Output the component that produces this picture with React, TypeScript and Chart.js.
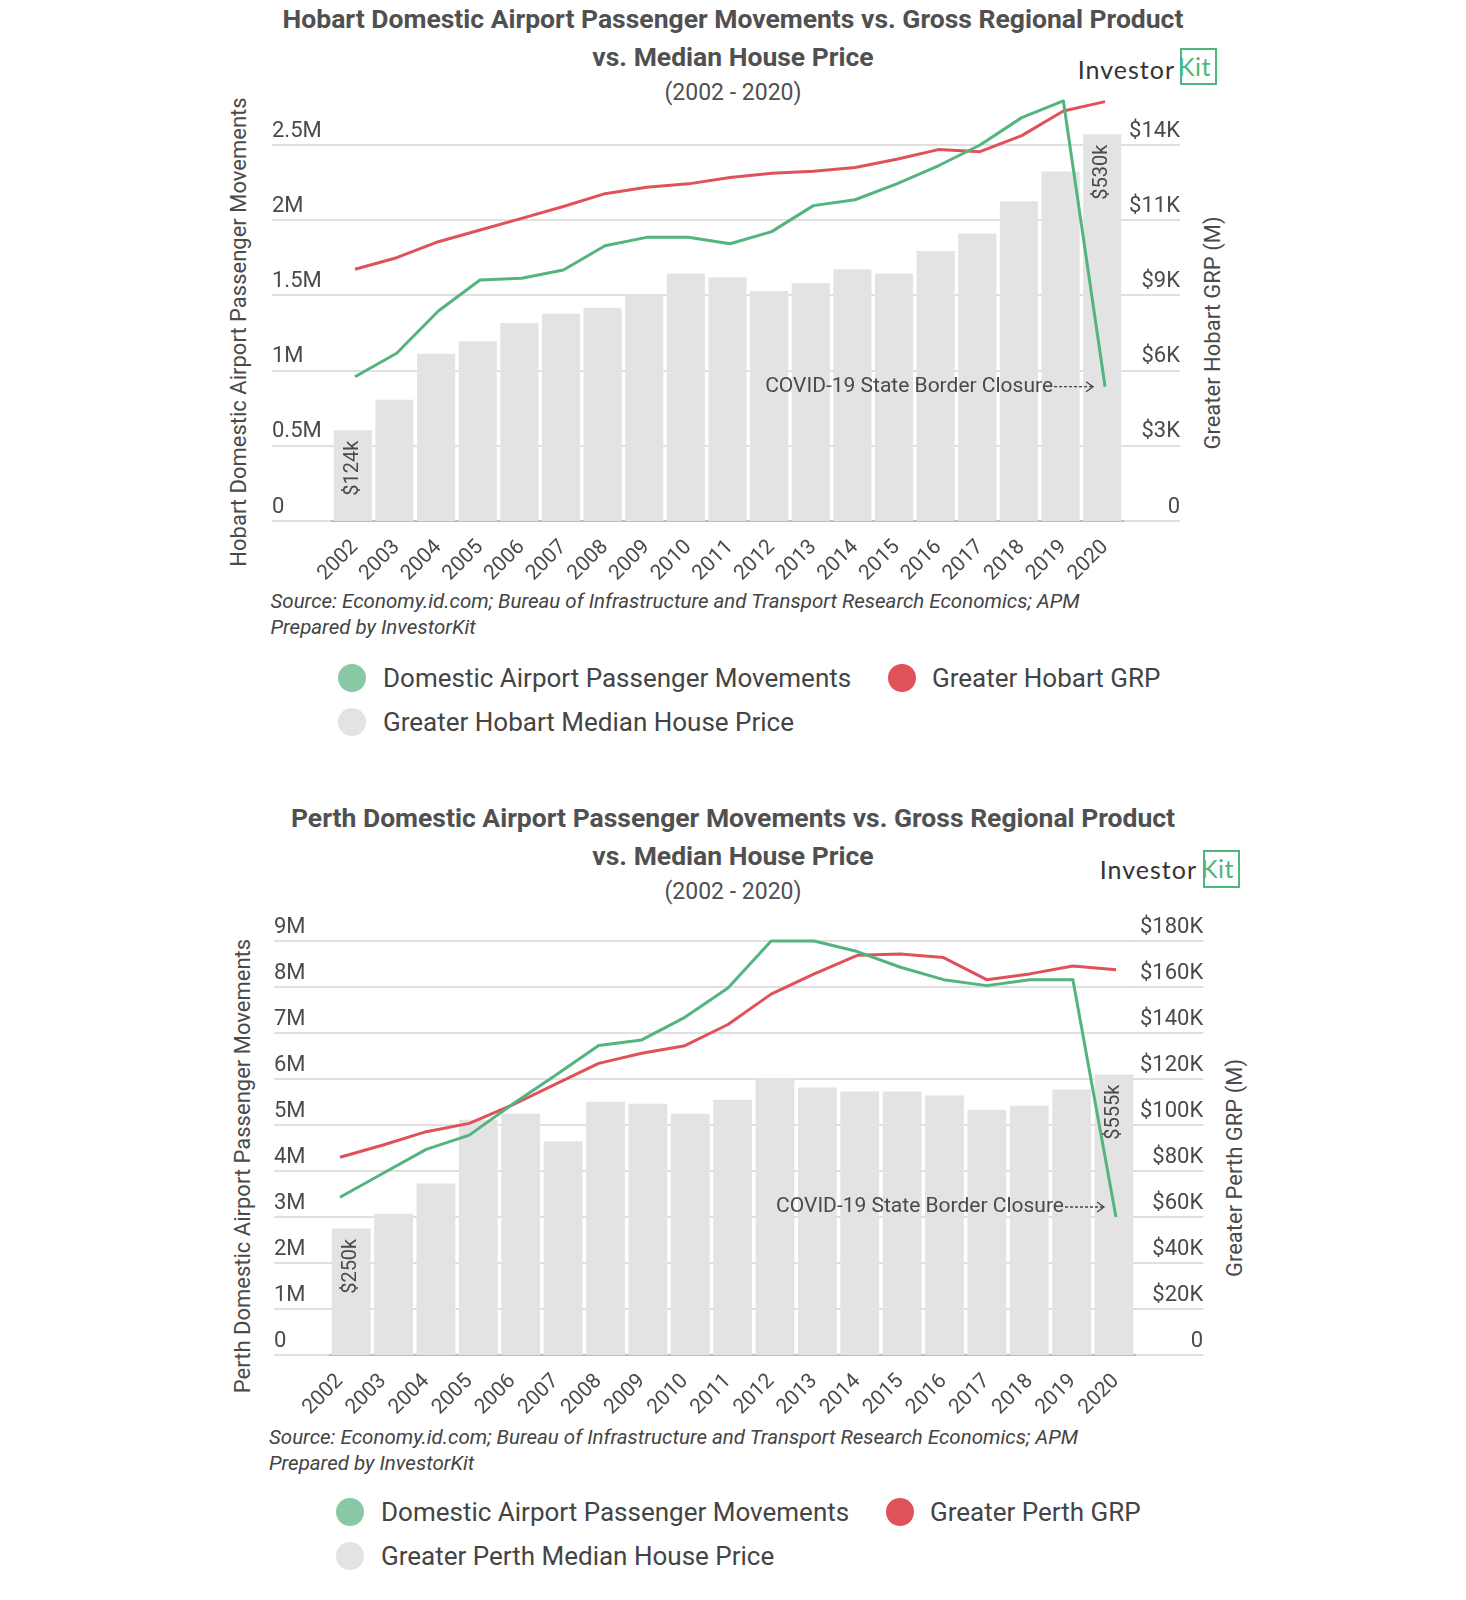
import React, { useEffect, useRef } from 'react';
import { Chart, registerables } from 'chart.js';

Chart.register(...registerables);

// ---------- data ----------
const years = ['2002', '2003', '2004', '2005', '2006', '2007', '2008', '2009', '2010', '2011',
  '2012', '2013', '2014', '2015', '2016', '2017', '2018', '2019', '2020'];

// Hobart
const hobartPassengers = [959000, 1115000, 1396000, 1602000, 1614000, 1669000, 1830000, 1886000, 1886000, 1843000,
  1924000, 2097000, 2136000, 2242000, 2362000, 2500000, 2682000, 2793000, 893000];
const hobartGrp = [9539, 9979, 10585, 11029, 11471, 11920, 12405, 12647, 12777, 13019,
  13178, 13252, 13398, 13708, 14075, 13998, 14604, 15538, 15893];
const hobartHousePriceK = [124, 166, 229, 246, 271, 284, 292, 309, 339, 334,
  315, 326, 345, 339, 370, 394, 438, 479, 530];
const hobartPaxTicks = [0, 500000, 1000000, 1500000, 2000000, 2500000];
const hobartPaxTickLabels = ['0', '0.5M', '1M', '1.5M', '2M', '2.5M'];
const hobartGrpTicks = [0, 2850, 5700, 8550, 11400, 14250];
const hobartGrpTickLabels = ['0', '$3K', '$6K', '$9K', '$11K', '$14K'];

// Perth
const perthPassengers = [3430000, 3950000, 4470000, 4780000, 5450000, 6080000, 6730000, 6850000, 7340000, 7980000,
  9000000, 9000000, 8770000, 8430000, 8160000, 8030000, 8160000, 8160000, 3000000];
const perthGrp = [86000, 91300, 97100, 100700, 108700, 117800, 126800, 131200, 134500, 143700,
  156900, 165700, 173800, 174300, 172800, 163200, 165700, 169100, 167500];
const perthHousePriceK = [250, 279, 339, 465, 477, 422, 501, 497, 477, 505,
  548, 529, 521, 521, 513, 485, 493, 525, 555];
const perthPaxTicks = [0, 1000000, 2000000, 3000000, 4000000, 5000000, 6000000, 7000000, 8000000, 9000000];
const perthPaxTickLabels = ['0', '1M', '2M', '3M', '4M', '5M', '6M', '7M', '8M', '9M'];
const perthGrpTicks = [0, 20000, 40000, 60000, 80000, 100000, 120000, 140000, 160000, 180000];
const perthGrpTickLabels = ['0', '$20K', '$40K', '$60K', '$80K', '$100K', '$120K', '$140K', '$160K', '$180K'];

// ---------- styles ----------
const GREEN = '#54b47f';
const GREEN_LEGEND = '#88c8a4';
const RED = '#df5259';
const BAR = '#e3e3e3';
const TEXT = '#4a4a4a';
const GRID = 'rgba(0,0,0,0.12)';
const LOGO_GREEN = '#4cb87c';
const FONT = 'Roboto, "Noto Sans", sans-serif';
const PAGE_W = 1466;
const PAD_L = 150;
const PAD_R = 150;
const PAD_T = 30;
const X_AXIS_H = 70;

const zeroPad = (s: any) => {
  s.paddingTop = 0; s.paddingBottom = 0; s.paddingLeft = 0; s.paddingRight = 0;
};

const overlayPlugin = {
  id: 'overlay',
  afterDatasetsDraw(chart: any, _args: any, opts: any) {
    const ctx = chart.ctx;
    const barMeta = chart.getDatasetMeta(2);
    const n = barMeta.data.length;
    ctx.save();
    ctx.fillStyle = TEXT;
    ctx.font = `20px ${FONT}`;
    ctx.textAlign = 'right';
    ctx.textBaseline = 'middle';
    [0, n - 1].forEach((i, k) => {
      const el = barMeta.data[i];
      ctx.save();
      ctx.translate(el.x, el.y + 10);
      ctx.rotate(-Math.PI / 2);
      ctx.fillText(opts.barLabels[k], 0, 0);
      ctx.restore();
    });
    // annotation
    const lineMeta = chart.getDatasetMeta(0);
    const pt = lineMeta.data[lineMeta.data.length - 1];
    const tipX = pt.x - 12;
    const startX = tipX - 40;
    const y = pt.y + opts.noteDy;
    ctx.font = `21px ${FONT}`;
    ctx.fillText(opts.note, startX, y);
    ctx.strokeStyle = '#444';
    ctx.lineWidth = 1.3;
    ctx.setLineDash([3, 2]);
    ctx.beginPath();
    ctx.moveTo(startX + 1, y);
    ctx.lineTo(tipX - 1, y);
    ctx.stroke();
    ctx.setLineDash([]);
    ctx.beginPath();
    ctx.moveTo(tipX - 7, y - 5);
    ctx.lineTo(tipX, y);
    ctx.lineTo(tipX - 7, y + 5);
    ctx.stroke();
    ctx.restore();
  },
};

type ChartProps = {
  top: number; height: number;
  chartLeft: number; chartRight: number;
  leftTick: number; rightTick: number;
  pax: number[]; grp: number[]; price: number[];
  paxTicks: number[]; paxLabels: string[]; grpTicks: number[]; grpLabels: string[];
  paxMax: number; grpMax: number; priceMax: number;
  lineMin: number; lineMax: number;
  barThickness: number;
  noteDy: number;
  grpName: string; priceName: string;
};

function ChartCanvas(p: ChartProps) {
  const ref = useRef<HTMLCanvasElement>(null);
  useEffect(() => {
    const chart = new Chart(ref.current as HTMLCanvasElement, {
      type: 'bar',
      data: {
        labels: years,
        datasets: [
          {
            type: 'line', label: 'Domestic Airport Passenger Movements', data: p.pax,
            xAxisID: 'x', yAxisID: 'y', borderColor: GREEN, backgroundColor: GREEN, borderWidth: 3,
            pointRadius: 0, tension: 0, order: 0, borderJoinStyle: 'round',
          } as any,
          {
            type: 'line', label: p.grpName, data: p.grp,
            xAxisID: 'x', yAxisID: 'y2', borderColor: RED, backgroundColor: RED, borderWidth: 3,
            pointRadius: 0, tension: 0, order: 1, borderJoinStyle: 'round',
          } as any,
          {
            type: 'bar', label: p.priceName, data: p.price,
            xAxisID: 'xb', yAxisID: 'yb', backgroundColor: BAR,
            grouped: false, barThickness: p.barThickness, order: 2,
          } as any,
        ],
      },
      options: {
        responsive: false,
        animation: false,
        events: [],
        layout: { padding: { left: PAD_L, right: PAD_R, top: PAD_T, bottom: 0 } },
        plugins: {
          legend: { display: false },
          tooltip: { enabled: false },
          overlay: {
            barLabels: [`$${p.price[0]}k`, `$${p.price[p.price.length - 1]}k`],
            note: 'COVID-19 State Border Closure',
            noteDy: p.noteDy,
          },
        } as any,
        scales: {
          x: {
            type: 'linear', position: 'bottom', min: p.lineMin, max: p.lineMax, offset: false, z: 1,
            bounds: 'data',
            grid: { display: false },
            border: { display: true, color: '#bdbdbd', width: 2 },
            ticks: {
              autoSkip: false, minRotation: 45, maxRotation: 45, padding: 6, color: TEXT,
              font: { family: FONT, size: 21 },
              callback: (_v: any, i: number) => years[i],
            },
            afterBuildTicks: (s: any) => { s.ticks = years.map((y) => ({ value: Number(y) })); },
            afterFit: (s: any) => { s.height = X_AXIS_H; zeroPad(s); },
          },
          xb: { type: 'category', display: false, offset: true, grid: { display: false } },
          y: {
            type: 'linear', position: 'left', min: 0, max: p.paxMax, z: 1, bounds: 'data',
            grid: { color: GRID, lineWidth: 2, drawTicks: true, tickLength: p.leftTick, tickColor: GRID },
            border: { display: false },
            ticks: {
              mirror: true, padding: -p.leftTick,
              labelOffset: -14, color: TEXT, font: { family: FONT, size: 22 },
              callback: (_v: any, i: number) => p.paxLabels[i],
            },
            afterBuildTicks: (s: any) => { s.ticks = p.paxTicks.map((v) => ({ value: v })); },
            afterFit: (s: any) => { s.width = p.chartLeft - PAD_L; zeroPad(s); },
          },
          y2: {
            type: 'linear', position: 'right', min: 0, max: p.grpMax, z: 1, bounds: 'data',
            grid: { drawOnChartArea: false, color: GRID, lineWidth: 2, drawTicks: true, tickLength: p.rightTick, tickColor: GRID },
            border: { display: false },
            ticks: {
              mirror: true, padding: p.rightTick,
              labelOffset: -14, color: TEXT, font: { family: FONT, size: 22 },
              callback: (_v: any, i: number) => p.grpLabels[i],
            },
            afterBuildTicks: (s: any) => { s.ticks = p.grpTicks.map((v) => ({ value: v })); },
            afterFit: (s: any) => { s.width = PAGE_W - PAD_R - p.chartRight; zeroPad(s); },
          },
          yb: { type: 'linear', display: false, position: 'right', min: 0, max: p.priceMax },
        } as any,
      },
      plugins: [overlayPlugin as any],
    });
    return () => chart.destroy();
  }, []);
  return (
    <canvas
      ref={ref}
      width={PAGE_W}
      height={p.height}
      style={{ position: 'absolute', left: 0, top: p.top, width: PAGE_W, height: p.height }}
    />
  );
}

type PanelProps = {
  y0: number;
  title1: string;
  title2: string;
  logo: { right: number; cy: number; boxLeft: number; boxTop: number; boxW: number; boxH: number };
  leftTitle: { text: string; cx: number; cy: number };
  rightTitle: { text: string; cx: number; cy: number };
  source: { left: number; top: number };
  legend: { row1: number; row2: number; cx: number; tx: number; rcx: number; rtx: number; grpName: string; priceName: string };
  chart: ChartProps;
};

const abs = (s: React.CSSProperties): React.CSSProperties => ({ position: 'absolute', ...s });

function Dot({ cx, cy, color }: { cx: number; cy: number; color: string }) {
  return <div style={abs({ left: cx - 14, top: cy - 14, width: 28, height: 28, borderRadius: 14, background: color })} />;
}

function LegendText({ x, cy, text }: { x: number; cy: number; text: string }) {
  return (
    <div style={abs({ left: x, top: cy - 16, fontSize: 26, lineHeight: '32px', color: '#444', whiteSpace: 'nowrap' })}>{text}</div>
  );
}

function Panel(p: PanelProps) {
  const rot = (t: { text: string; cx: number; cy: number }) => (
    <div style={abs({
      left: t.cx, top: t.cy, transform: 'translate(-50%, -50%) rotate(-90deg)',
      fontSize: 22, lineHeight: '26px', color: TEXT, whiteSpace: 'nowrap',
    })}>{t.text}</div>
  );
  return (
    <>
      <div style={abs({ left: 0, top: p.y0, width: PAGE_W, textAlign: 'center', fontWeight: 700, fontSize: 26.5, lineHeight: '38px', color: '#505050' })}>
        <div>{p.title1}</div>
        <div>{p.title2}</div>
      </div>
      <div style={abs({ left: 0, top: p.y0 + 80, width: PAGE_W, textAlign: 'center', fontSize: 23, lineHeight: '26px', color: '#505050' })}>
        (2002 - 2020)
      </div>
      <div style={abs({ right: PAGE_W - p.logo.right, top: p.logo.cy - 14, fontFamily: 'Lato, sans-serif', fontSize: 25, lineHeight: '28px', color: '#333', letterSpacing: 1, whiteSpace: 'nowrap' })}>
        Investor
      </div>
      <div style={abs({
        left: p.logo.boxLeft, top: p.logo.boxTop, width: p.logo.boxW, height: p.logo.boxH, boxSizing: 'border-box',
        border: `2.5px solid ${LOGO_GREEN}`, color: LOGO_GREEN, fontFamily: 'Lato, sans-serif', fontSize: 25,
        lineHeight: `${p.logo.boxH - 5}px`, textAlign: 'left', letterSpacing: 0.5, overflow: 'visible', whiteSpace: 'nowrap',
      })}><span style={{ marginLeft: -4 }}>Kit</span></div>
      {rot(p.leftTitle)}
      {rot(p.rightTitle)}
      <div style={abs({ left: p.source.left, top: p.source.top, fontStyle: 'italic', fontSize: 20.5, lineHeight: '26px', color: '#444', whiteSpace: 'nowrap' })}>
        <div>Source: Economy.id.com; Bureau of Infrastructure and Transport Research Economics; APM</div>
        <div>Prepared by InvestorKit</div>
      </div>
      <Dot cx={p.legend.cx} cy={p.legend.row1} color={GREEN_LEGEND} />
      <LegendText x={p.legend.tx} cy={p.legend.row1} text="Domestic Airport Passenger Movements" />
      <Dot cx={p.legend.rcx} cy={p.legend.row1} color={RED} />
      <LegendText x={p.legend.rtx} cy={p.legend.row1} text={p.legend.grpName} />
      <Dot cx={p.legend.cx} cy={p.legend.row2} color={BAR} />
      <LegendText x={p.legend.tx} cy={p.legend.row2} text={p.legend.priceName} />
      <ChartCanvas {...p.chart} />
    </>
  );
}

export default function App() {
  useEffect(() => {
    document.body.style.margin = '0';
  }, []);

  // Hobart chart geometry
  const hTop = 66;
  const hAreaTop = hTop + PAD_T; // 96
  const hAreaBottom = 521;
  const hH = hAreaBottom - hAreaTop;
  const hLeft = 332;
  const hRight = 1123;
  const hPitch = 41.67;
  const hChart: ChartProps = {
    top: hTop, height: hAreaBottom + X_AXIS_H - hTop,
    chartLeft: hLeft, chartRight: hRight, leftTick: 60, rightTick: 57,
    pax: hobartPassengers, grp: hobartGrp, price: hobartHousePriceK,
    paxTicks: hobartPaxTicks, paxLabels: hobartPaxTickLabels,
    grpTicks: hobartGrpTicks, grpLabels: hobartGrpTickLabels,
    paxMax: (hH / 150.4) * 1e6,
    grpMax: (hH / 75.2) * 2850,
    priceMax: hH / 0.729,
    lineMin: 2002 - (355 - hLeft) / hPitch, lineMax: 2002 - (355 - hLeft) / hPitch + (hRight - hLeft) / hPitch,
    barThickness: ((hRight - hLeft) / years.length) * 0.9,
    noteDy: 0,
    grpName: 'Greater Hobart GRP', priceName: 'Greater Hobart Median House Price',
  };

  // Perth chart geometry
  const pTop = 906;
  const pAreaTop = pTop + PAD_T; // 936
  const pAreaBottom = 1355;
  const pH = pAreaBottom - pAreaTop;
  const pLeft = 330;
  const pRight = 1135.2;
  const pPitch = 43.11;
  const pChart: ChartProps = {
    top: pTop, height: pAreaBottom + X_AXIS_H - pTop,
    chartLeft: pLeft, chartRight: pRight, leftTick: 56, rightTick: 68,
    pax: perthPassengers, grp: perthGrp, price: perthHousePriceK,
    paxTicks: perthPaxTicks, paxLabels: perthPaxTickLabels,
    grpTicks: perthGrpTicks, grpLabels: perthGrpTickLabels,
    paxMax: (pH / 46) * 1e6,
    grpMax: (pH / 46) * 20000,
    priceMax: pH / 0.505,
    lineMin: 2002 - (340 - pLeft) / pPitch, lineMax: 2002 - (340 - pLeft) / pPitch + (pRight - pLeft) / pPitch,
    barThickness: ((pRight - pLeft) / years.length) * 0.9,
    noteDy: -10,
    grpName: 'Greater Perth GRP', priceName: 'Greater Perth Median House Price',
  };

  return (
    <div style={{ position: 'relative', width: PAGE_W, height: 1600, fontFamily: FONT, background: '#fff', overflow: 'hidden' }}>
      <Panel
        y0={0}
        title1="Hobart Domestic Airport Passenger Movements vs. Gross Regional Product"
        title2="vs. Median House Price"
        logo={{ right: 1175, cy: 68.5, boxLeft: 1180, boxTop: 48, boxW: 37, boxH: 37 }}
        leftTitle={{ text: 'Hobart Domestic Airport Passenger Movements', cx: 238.5, cy: 332 }}
        rightTitle={{ text: 'Greater Hobart GRP (M)', cx: 1213, cy: 333 }}
        source={{ left: 270.5, top: 588 }}
        legend={{ row1: 678, row2: 722, cx: 352, tx: 383, rcx: 902, rtx: 932, grpName: 'Greater Hobart GRP', priceName: 'Greater Hobart Median House Price' }}
        chart={hChart}
      />
      <Panel
        y0={799}
        title1="Perth Domestic Airport Passenger Movements vs. Gross Regional Product"
        title2="vs. Median House Price"
        logo={{ right: 1197, cy: 869, boxLeft: 1203, boxTop: 850, boxW: 37, boxH: 38 }}
        leftTitle={{ text: 'Perth Domestic Airport Passenger Movements', cx: 243, cy: 1165.5 }}
        rightTitle={{ text: 'Greater Perth GRP (M)', cx: 1235, cy: 1168 }}
        source={{ left: 269, top: 1424 }}
        legend={{ row1: 1512, row2: 1556, cx: 350, tx: 381, rcx: 900, rtx: 930, grpName: 'Greater Perth GRP', priceName: 'Greater Perth Median House Price' }}
        chart={pChart}
      />
    </div>
  );
}
